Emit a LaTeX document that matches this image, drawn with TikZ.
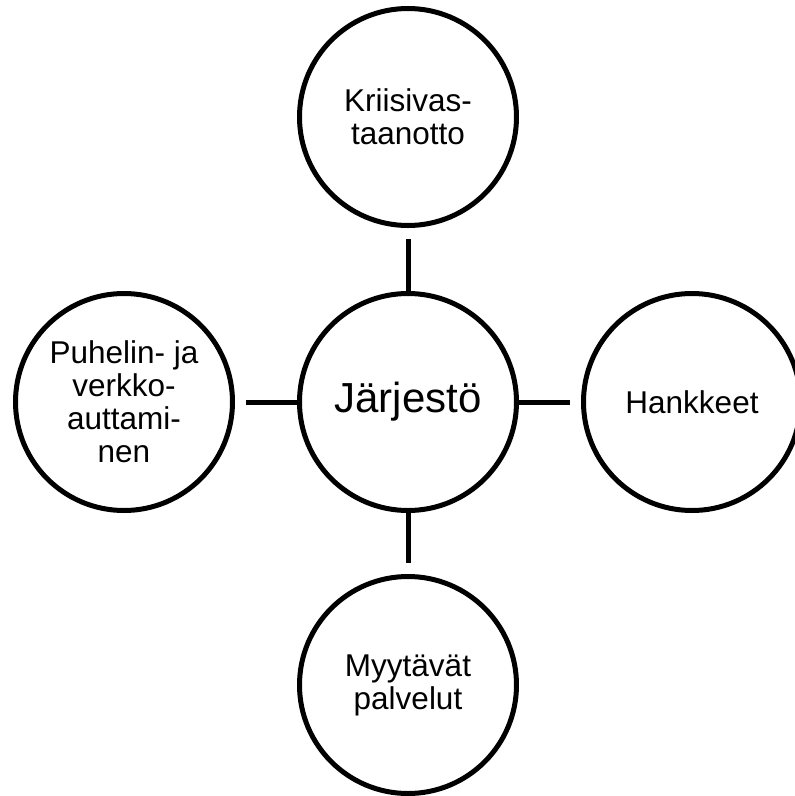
\documentclass[tikz,border=0pt]{standalone}
\usepackage{fontspec}
\setmainfont{Liberation Sans}
\begin{document}
\begin{tikzpicture}[x=1pt,y=-1pt,
  bubble/.style={draw=black, line width=5pt, circle, minimum size=217pt,
    inner sep=0pt, align=center, font=\fontsize{31.5}{33}\selectfont},
  hub/.style={bubble, font=\fontsize{42}{46}\selectfont},
  link/.style={draw=black, line width=5pt, shorten >=11pt}]
  \useasboundingbox (0,0) rectangle (795,796);
  \clip (0,0) rectangle (795,796);

  % central organisation and its four areas of activity
  \node[hub]    (C) at (408,402) {Järjestö};
  \node[bubble] (T) at (408,117) {Kriisivas-\\taanotto};
  \node[bubble] (L) at (124,402) {Puhelin- ja\\verkko-\\auttami-\\nen};
  \node[bubble] (R) at (692,402) {Hankkeet};
  \node[bubble] (B) at (408,685) {Myytävät\\palvelut};

  % spokes from the hub, stopping short of the outer circles
  \draw[link] (C) -- (T);
  \draw[link] (C) -- (L);
  \draw[link] (C) -- (R);
  \draw[link] (C) -- (B);
\end{tikzpicture}
\end{document}
